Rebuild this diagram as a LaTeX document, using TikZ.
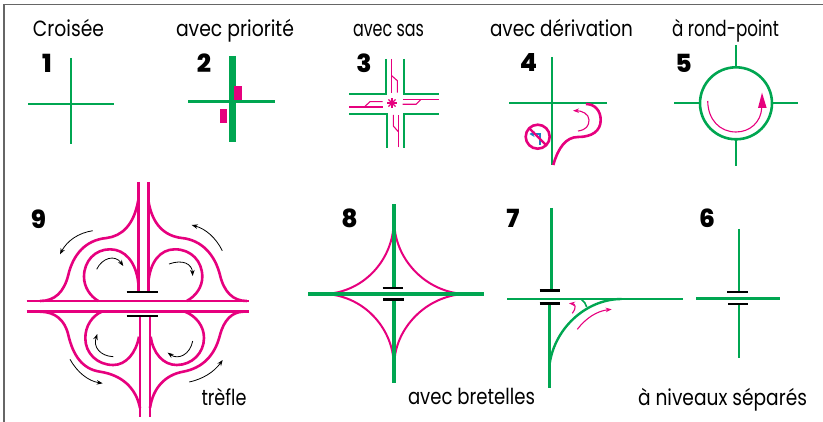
\documentclass[tikz,border=0pt]{standalone}
\usepackage{fontspec}
\setmainfont{Poppins}[BoldFont=* ExtraBold]
\usetikzlibrary{arrows.meta}
\definecolor{gr}{HTML}{00A651}
\definecolor{mg}{HTML}{E6007E}
\definecolor{bl}{HTML}{1B7FC4}
\newcommand{\lbl}[5]{\node[txt,anchor=base] (#1) at (#2,#3) {\resizebox{#4pt}{\height}{#5}};}
\newcommand{\num}[4]{\node[numb] (#1) at (#2,#3) {#4};}
\begin{document}
\begin{tikzpicture}[x=1pt,y=-1pt,
  txt/.style={inner sep=0pt,font=\fontsize{22}{24}\selectfont},
  numb/.style={inner sep=0pt,font=\fontsize{25}{28}\selectfont\bfseries},
  road/.style={draw=gr,line width=2.4pt},
  mag/.style={draw=mg,line width=2.6pt},
  thinm/.style={draw=mg,line width=1.1pt},
  bar/.style={draw=black,line width=2.4pt},
  blk/.style={draw=black,line width=0.8pt,-{Stealth[length=6pt,width=4.5pt]}},
  marr/.style={draw=mg,line width=1.1pt,-{Stealth[length=6pt,width=4.5pt]}},
]
\useasboundingbox (0,0) rectangle (823,422);
\draw[gray!80!black,line width=1.2pt] (4,422) -- (4,4.5) -- (823,4.5);
% labels
\lbl{t1}{68.5}{37}{71}{Croisée}
\lbl{t2}{235}{37}{118}{avec priorité}
\lbl{t3}{388.5}{37}{71}{avec sas}
\lbl{t4}{561.5}{37}{143}{avec dérivation}
\lbl{t5}{725.5}{37}{107}{à rond-point}
\lbl{t9}{224}{405}{45}{trèfle}
\lbl{t8}{471.5}{405}{127}{avec bretelles}
\lbl{t6}{722.5}{405}{169}{à niveaux séparés}
\num{n1}{47}{63}{1}
\num{n2}{204}{63.5}{2}
\num{n3}{364}{63}{3}
\num{n4}{528.5}{63}{4}
\num{n5}{683.5}{63.5}{5}
\num{n9}{38.5}{219}{9}
\num{n8}{349.5}{218.5}{8}
\num{n7}{513}{218.5}{7}
\num{n6}{707}{218.5}{6}
% 1
\draw[road] (71,58) -- (71,144);
\draw[road] (28,104) -- (114,104);
% 2
\draw[road] (188,101.5) -- (275,101.5);
\draw[gr,line width=7pt] (232,56) -- (232,142);
\fill[mg] (234,86) rectangle (242,100);
\fill[mg] (220,109) rectangle (227,123);
% 3
\draw[road] (385.7,59) -- (385.7,94) -- (349,94);
\draw[road] (404,59) -- (404,94) -- (438.7,94);
\draw[road] (349,114) -- (387,114) -- (387,147.7);
\draw[road] (404,147.7) -- (404,114) -- (438.7,114);
\draw[thinm] (391.7,59) -- (391.7,92.7);
\draw[thinm] (391.7,75.7) -- (397.3,80.7) -- (397.3,92.7);
\draw[thinm] (398.3,147.5) -- (398.3,115);
\draw[thinm] (393.3,115) -- (393.3,126) -- (398.3,131.7);
\draw[thinm] (349,107) -- (382.7,107);
\draw[thinm] (382.7,101.7) -- (370,101.7) -- (364.3,107);
\draw[thinm] (438.7,99.3) -- (402.7,99.3);
\draw[thinm] (402.7,104.3) -- (416,104.3) -- (421,99.3);
\foreach \a in {0,45,...,315}{\draw[draw=mg,line width=1.1pt] (392,103) -- ++(\a:5);}
% 4
\draw[road] (552,57) -- (552,165);
\draw[road] (509,103.3) -- (607,103.3);
\draw[mag] (553.3,165) .. controls (558,148) and (566,137) .. (578,137)
  .. controls (592,137) and (600.7,131) .. (600.7,120) .. controls (600.7,111) and (595,104) .. (586,104);
\draw[marr] (578,131) .. controls (586,130) and (589,126) .. (589,120) .. controls (589,114) and (582,110.7) .. (573,110.7);
\draw[mag,line width=2.6pt] (537.7,136.7) circle (12);
\draw[draw=bl,line width=2pt,-{Stealth[length=5pt,width=6pt]}] (540,145) -- (540,134) -- (529.5,134);
\draw[mag,line width=2.2pt] (529.2,128.2) -- (546.2,145.2);
% 5
\draw[road] (736,45) -- (736,67);
\draw[road] (736,139.5) -- (736,166);
\draw[road] (674,103.3) -- (700,103.3);
\draw[road] (772,103.3) -- (798,103.3);
\draw[road,line width=2.6pt] (736,103.3) circle (36);
\draw[thinm] (707.7,101) .. controls (708,120) and (720,132) .. (736,132) .. controls (750,132) and (761,122) .. (761.7,108);
\fill[mg] (762,92.7) -- (766.7,108) -- (758,108) -- cycle;
% 9
\draw[mag] (138.3,182) -- (138.3,291.7);
\draw[mag] (148.3,182) -- (148.3,291.7);
\draw[mag] (26.7,301) -- (249.3,301);
\draw[mag] (26.7,311.7) -- (249.3,311.7);
\draw[mag] (140,317) -- (140,416.7);
\draw[mag] (150,317) -- (150,416.7);
\draw[bar] (126.7,292.3) -- (158.3,292.3);
\draw[bar] (126.7,316.3) -- (158.3,316.3);
\draw[mag] (138.3,200) .. controls (134,225) and (122,236) .. (106.7,238) .. controls (85,240) and (73,255) .. (68.3,275) .. controls (64,292) and (55,301) .. (40,301);
\draw[mag] (148.3,200) .. controls (152,225) and (165,236) .. (181.7,238) .. controls (202,240) and (215,255) .. (220,275) .. controls (224,292) and (233,301) .. (246.7,301);
\draw[mag] (138.3,283) .. controls (136,262) and (125,249.3) .. (110,249.3) .. controls (95,249.3) and (84,261) .. (84,276.7) .. controls (84,287) and (90,296) .. (98.3,301);
\draw[mag] (148.3,283) .. controls (150,262) and (160,249.3) .. (175,249.3) .. controls (191,249.3) and (202.3,261) .. (202.3,276.7) .. controls (202.3,287) and (196,296) .. (186.7,301);
\draw[mag] (139,336.7) .. controls (136,353) and (126,365) .. (113.3,365) .. controls (97,365) and (85.3,353) .. (85.3,338.3) .. controls (85.3,326) and (92,316) .. (101.7,311.7);
\draw[mag] (150.7,336.7) .. controls (153,353) and (163,365) .. (176.7,365) .. controls (192,365) and (204,353) .. (204,338) .. controls (204,326) and (196,316) .. (185,311.7);
\draw[mag] (40,311.7) .. controls (55,311.7) and (65,320) .. (68.3,335) .. controls (73,355) and (82,369) .. (100,371.7) .. controls (122,375) and (136,388) .. (140,408);
\draw[mag] (243,311.7) .. controls (232,312) and (224,320) .. (220,335) .. controls (215,355) and (203,368) .. (183,371.7) .. controls (165,375) and (153,388) .. (150,408);
\draw[blk] (92.7,230.7) .. controls (78,233) and (67,241) .. (60,254.3);
\draw[blk] (222.3,250.7) .. controls (216,238) and (206,229) .. (191.7,225);
\draw[blk] (96.7,269.3) .. controls (102,258) and (115,254) .. (123.3,266);
\draw[blk] (169,264) .. controls (183,259) and (192,264) .. (192.7,276);
\draw[blk] (113.3,356.7) .. controls (100,356) and (93,347) .. (97.3,334);
\draw[blk] (192.7,341) .. controls (190,355) and (178,360) .. (167.7,352.7);
\draw[blk] (70,359.3) .. controls (77,372) and (88,381) .. (102.7,383.3);
\draw[blk] (189.3,382) .. controls (203,379) and (214,372) .. (222.7,360);
% 8
\draw[mag,line width=2pt] (326.7,294) .. controls (365,291) and (391,260) .. (393.5,226.7);
\draw[mag,line width=2pt] (463,294) .. controls (425,291) and (397,260) .. (394.5,226.7);
\draw[mag,line width=2pt] (326.7,294) .. controls (365,297) and (391,328) .. (393.5,360);
\draw[mag,line width=2pt] (463,294) .. controls (425,297) and (397,328) .. (394.5,360);
\draw[road,line width=3.2pt] (394,204.3) -- (394,288);
\draw[road,line width=3.2pt] (394,300) -- (394,383.3);
\draw[road,line width=3.2pt] (308,294) -- (483.7,294);
\draw[bar] (382.7,288) -- (403.3,288);
\draw[bar] (383.3,299.7) -- (404,299.7);
% 7
\draw[road] (551.3,208) -- (551.3,290);
\draw[road] (549.3,304) -- (549.3,387.7);
\draw[road] (507,299) -- (683,299);
\draw[road] (549.3,366.7) .. controls (553,330) and (585,299) .. (621.7,299);
\draw[road,line width=1.6pt] (581,299) .. controls (584,301) and (586,304) .. (586.7,307);
\draw[bar] (539.7,290.7) -- (560.3,290.7);
\draw[bar] (539.7,303.7) -- (560.3,303.7);
\draw[marr] (572.3,313.3) .. controls (577,307) and (575,304) .. (569,303.3);
\draw[marr] (577.3,329.3) .. controls (586,318) and (597,311) .. (611.7,309.3);
% 6
\draw[road] (738.7,229) -- (738.7,291.7);
\draw[road] (738.7,305) -- (738.7,357.7);
\draw[road] (696.3,298.7) -- (780,298.7);
\draw[bar] (727.3,292.3) -- (748,292.3);
\draw[bar] (728.3,304.3) -- (748.3,304.3);
\end{tikzpicture}
\end{document}
